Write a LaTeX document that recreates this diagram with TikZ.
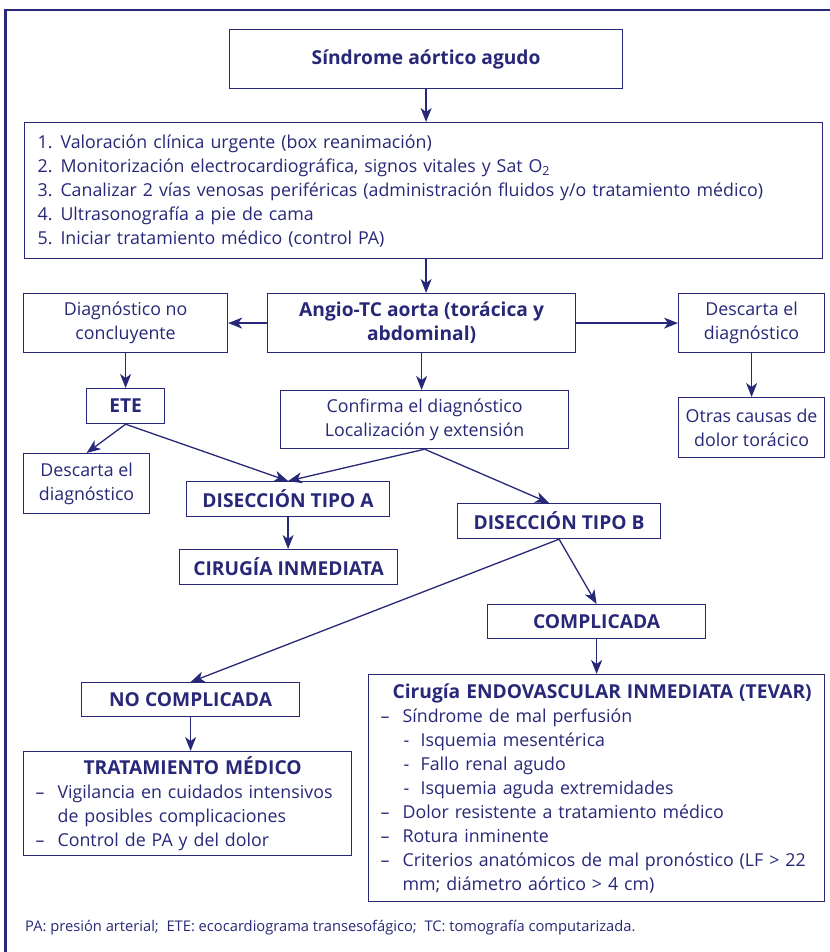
\documentclass[tikz,border=0pt]{standalone}
\usepackage{fontspec}
\setmainfont{Open Sans}
\usetikzlibrary{arrows.meta,calc}
\definecolor{navy}{RGB}{40,40,120}
\newcommand{\ttl}[1]{{\bfseries\fontsize{19.2}{24}\selectfont #1}}
\begin{document}
\begin{tikzpicture}[x=1pt,y=-1pt,
  every node/.style={text=navy},
  box/.style={draw=navy, line width=1.2pt, fill=white, inner sep=0pt, anchor=north west, align=center},
  reg/.style={font=\fontsize{17.8}{24}\selectfont},
  bld/.style={font=\bfseries\fontsize{19.2}{24}\selectfont},
  arr/.style={draw=navy, line width=1.3pt, -{Stealth[length=14pt,width=11pt,inset=4pt]}},
]
\useasboundingbox (0,0) rectangle (829,952);
% outer frame
\draw[navy, line width=2.5pt] (5.5,960) -- (5.5,10) -- (840,10);

\node[box,bld,minimum width=393pt,minimum height=59pt] (top) at (229,29) {Síndrome aórtico agudo};

\node[box,reg,minimum width=798pt,minimum height=136pt,align=left,text width=772pt] (list) at (24,122)
{1.\hspace{8pt}Valoración clínica urgente (box reanimación)\\
 2.\hspace{8pt}Monitorización electrocardiográfica, signos vitales y Sat O\textsubscript{2}\\
 3.\hspace{8pt}Canalizar 2 vías venosas periféricas (administración fluidos y/o tratamiento médico)\\
 4.\hspace{8pt}Ultrasonografía a pie de cama\\
 5.\hspace{8pt}Iniciar tratamiento médico (control PA)};

\node[box,reg,minimum width=204pt,minimum height=59pt] (diag) at (23,293) {Diagnóstico no\\concluyente};
\node[box,bld,minimum width=308pt,minimum height=59pt] (angio) at (267,293) {Angio-TC aorta (torácica y\\abdominal)};
\node[box,reg,minimum width=146pt,minimum height=59pt] (descR) at (678,293) {Descarta el\\diagnóstico};
\node[box,bld,minimum width=78pt,minimum height=35pt] (ete) at (86,388) {ETE};
\node[box,reg,minimum width=288pt,minimum height=58pt] (conf) at (280,390) {Confirma el diagnóstico\\Localización y extensión};
\node[box,reg,minimum width=146pt,minimum height=60pt] (otras) at (678,397) {Otras causas de\\dolor torácico};
\node[box,reg,minimum width=126pt,minimum height=60pt] (descL) at (23,453) {Descarta el\\diagnóstico};
\node[box,bld,minimum width=203pt,minimum height=35pt] (dA) at (186,481) {DISECCIÓN TIPO A};
\node[box,bld,minimum width=203pt,minimum height=35pt] (dB) at (457,503) {DISECCIÓN TIPO B};
\node[box,bld,minimum width=218pt,minimum height=35pt] (ci) at (179,549) {CIRUGÍA INMEDIATA};
\node[box,bld,minimum width=218pt,minimum height=34pt] (compl) at (487,604) {COMPLICADA};
\node[box,bld,minimum width=218pt,minimum height=34pt] (nc) at (81,682) {NO COMPLICADA};

\node[box,reg,minimum width=328pt,minimum height=104pt,align=left,text width=304pt] (tm) at (23,751)
{\hspace*{48pt}\ttl{TRATAMIENTO MÉDICO}\\
 \makebox[22pt][l]{–}Vigilancia en cuidados intensivos\\
 \hspace*{22pt}de posibles complicaciones\\
 \makebox[22pt][l]{–}Control de PA y del dolor};

\node[box,reg,minimum width=456pt,minimum height=227pt,align=left,text width=432pt] (endo) at (368,674)
{\hspace*{12pt}\ttl{Cirugía ENDOVASCULAR INMEDIATA (TEVAR)}\\
 \makebox[22pt][l]{–}Síndrome de mal perfusión\\
 \hspace*{23pt}\makebox[17pt][l]{-}Isquemia mesentérica\\
 \hspace*{23pt}\makebox[17pt][l]{-}Fallo renal agudo\\
 \hspace*{23pt}\makebox[17pt][l]{-}Isquemia aguda extremidades\\
 \makebox[22pt][l]{–}Dolor resistente a tratamiento médico\\
 \makebox[22pt][l]{–}Rotura inminente\\
 \makebox[22pt][l]{–}Criterios anatómicos de mal pronóstico (LF > 22\\
 \hspace*{22pt}mm; diámetro aórtico > 4 cm)};

\node[anchor=west,inner sep=0pt,font=\fontsize{14.7}{17}\selectfont] (foot) at (25,928)
{PA: presión arterial;\ \ ETE: ecocardiograma transesofágico;\ \ TC: tomografía computarizada.};

\coordinate (bin) at ([xshift=-10pt]dB.north);

\draw[arr] (top.south) -- (top.south |- list.north);
\draw[arr] (list.south -| top.south) -- (angio.north -| top.south);
\draw[arr] (angio.west) -- (diag.east);
\draw[arr] (angio.east) -- (descR.west);
\draw[arr] (descR.south) -- (otras.north);
\draw[arr] (angio.south) -- (angio.south |- conf.north);
\draw[arr] (diag.south) -- (ete.north);
\draw[arr] (ete.south) -- (descL.north);
\draw[arr] (ete.south) -- (dA.north);
\draw[arr] (conf.south) -- (dA.north);
\draw[arr] (conf.south) -- (bin);
\draw[arr] (dA.south) -- (dA.south |- ci.north);
\draw[arr] (dB.south) -- (compl.north);
\draw[arr] (dB.south) -- (nc.north);
\draw[arr] (compl.south) -- (compl.south |- endo.north);
\draw[arr] (nc.south) -- (nc.south |- tm.north);
\end{tikzpicture}
\end{document}
